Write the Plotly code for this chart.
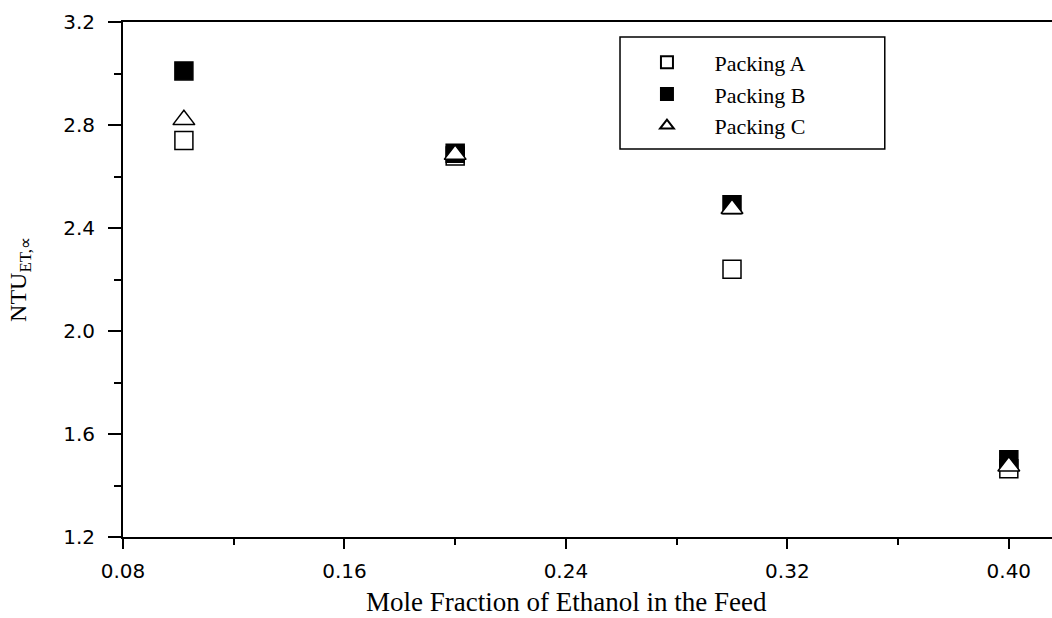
import plotly.graph_objects as go

x_feed = [0.102, 0.20, 0.30, 0.40]
ntu_a = [2.74, 2.68, 2.24, 1.465]
ntu_b = [3.01, 2.69, 2.49, 1.50]
ntu_c = [2.82, 2.685, 2.475, 1.475]
series_names = ["Packing A", "Packing B", "Packing C"]

x_ticks = [0.08, 0.16, 0.24, 0.32, 0.40]
y_ticks = [1.2, 1.6, 2.0, 2.4, 2.8, 3.2]
x_title = "Mole Fraction of Ethanol in the Feed"
y_title = "NTU<sub>ET,∝</sub>"

serif = "Liberation Serif, Times New Roman, serif"
sans = "DejaVu Sans, Arial, sans-serif"
pad = "\u00a0" * 5

fig = go.Figure()
fig.add_trace(go.Scatter(x=x_feed, y=ntu_a, mode="markers", name=pad + series_names[0],
                         marker=dict(symbol="square", size=18, color="white",
                                     line=dict(color="black", width=1.5))))
fig.add_trace(go.Scatter(x=x_feed, y=ntu_b, mode="markers", name=pad + series_names[1],
                         marker=dict(symbol="square", size=18, color="black",
                                     line=dict(color="black", width=1.5))))
fig.add_trace(go.Scatter(x=x_feed, y=ntu_c, mode="markers", name=pad + series_names[2],
                         marker=dict(symbol="triangle-up", size=19, color="white",
                                     line=dict(color="black", width=1.5))))

# legend frame
fig.add_shape(type="rect", xref="paper", yref="paper",
              x0=0.535, x1=0.820, y0=0.7534, y1=0.971,
              line=dict(color="black", width=1.5), fillcolor="white", layer="below")

# x-axis title (centred like the reference)
fig.add_annotation(text=x_title, xref="paper", yref="paper", x=0.477, y=0,
                   xanchor="center", yanchor="top", yshift=-48, showarrow=False,
                   font=dict(family=serif, size=27, color="black"))

fig.update_layout(
    width=1052, height=618,
    margin=dict(l=123, r=0, t=22, b=81, pad=0),
    paper_bgcolor="white", plot_bgcolor="white",
    showlegend=True,
    legend=dict(x=0.564, y=0.962, xanchor="left", yanchor="top",
                bgcolor="rgba(0,0,0,0)", borderwidth=0,
                font=dict(family=serif, size=22, color="black"),
                itemsizing="constant", tracegroupgap=0),
    xaxis=dict(range=[0.08, 0.4156], tickvals=x_ticks, tickformat=".2f",
               showgrid=False, zeroline=False,
               showline=True, linecolor="black", linewidth=2, mirror=True,
               ticks="outside", ticklen=10, tickwidth=2, tickcolor="black",
               minor=dict(dtick=0.04, tick0=0.08, ticks="outside", ticklen=6,
                          tickwidth=2, tickcolor="black"),
               tickfont=dict(family=sans, size=20, color="black"),
               ticklabelstandoff=5),
    yaxis=dict(range=[1.2, 3.2], tickvals=y_ticks, tickformat=".1f",
               showgrid=False, zeroline=False,
               showline=True, linecolor="black", linewidth=2, mirror=False,
               ticks="outside", ticklen=13, tickwidth=2, tickcolor="black",
               minor=dict(dtick=0.2, tick0=1.2, ticks="outside", ticklen=7,
                          tickwidth=2, tickcolor="black"),
               tickfont=dict(family=sans, size=20, color="black"),
               ticklabelstandoff=9,
               title=dict(text=y_title,
                          font=dict(family=serif, size=24, color="black"),
                          standoff=30)),
)

fig.write_html("out.html")
